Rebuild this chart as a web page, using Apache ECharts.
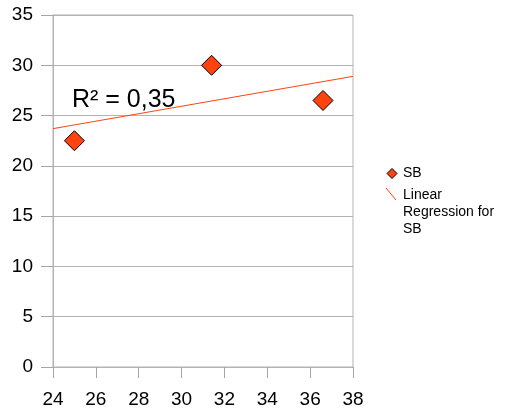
<!DOCTYPE html>
<html>
<head>
  <meta charset="UTF-8">
  <title>SB</title>
  <script src="https://cdn.jsdelivr.net/npm/echarts@6/dist/echarts.min.js"></script>
  <style>
    html, body { margin: 0; padding: 0; background: #fff; }
    #main { width: 507px; height: 414px; }
  </style>
</head>
<body>
<div id="main"></div>
<script>
  // values
  var sbX = [25, 31.4, 36.6];
  var sbY = [22.5, 30, 26.5];
  var trendX = [24, 38];
  var trendY = [23.7, 28.9];
  var rSquared = 'R² = 0,35';

  var orange = '#ff420e';
  var gray = '#b3b3b3';
  var font = 'Liberation Sans, Arial, sans-serif';

  var points = sbX.map(function (x, i) { return [x, sbY[i]]; });
  var trend = trendX.map(function (x, i) { return [x, trendY[i]]; });

  var chart = echarts.init(document.getElementById('main'));
  chart.setOption({
    animation: false,
    grid: { left: 53, right: 154, top: 15, bottom: 47, show: true, borderColor: gray, borderWidth: 1 },
    xAxis: {
      type: 'value', min: 24, max: 38, interval: 2,
      axisLine: { show: true, lineStyle: { color: gray } },
      axisTick: { show: true, length: 11, lineStyle: { color: '#a6a6a6', width: 1 } },
      axisLabel: { color: '#000', fontSize: 19, fontFamily: font, margin: 23 },
      splitLine: { show: false }
    },
    yAxis: {
      type: 'value', min: 0, max: 35, interval: 5,
      axisLine: { show: true, lineStyle: { color: gray } },
      axisTick: { show: true, length: 12, lineStyle: { color: '#a6a6a6', width: 1 } },
      axisLabel: { color: '#000', fontSize: 19, fontFamily: font, margin: 20 },
      splitLine: { lineStyle: { color: gray } }
    },
    graphic: [
      { type: 'text', left: 72, top: 88,
        style: { text: rSquared, fontSize: 25, fontFamily: font, fill: '#000' } },
      // legend
      { type: 'polygon', shape: { points: [[392, 168.5], [397, 173.5], [392, 178.5], [387, 173.5]] },
        style: { fill: orange, stroke: '#000', lineWidth: 1 } },
      { type: 'text', x: 403, y: 173.5,
        style: { text: 'SB', fontSize: 14, fontFamily: font, fill: '#000', verticalAlign: 'middle' } },
      { type: 'line', shape: { x1: 386, y1: 188, x2: 396, y2: 200 },
        style: { stroke: orange, lineWidth: 1 } },
      { type: 'text', x: 403, y: 187,
        style: { text: 'Linear\nRegression for\nSB', fontSize: 14, lineHeight: 17, fontFamily: font, fill: '#000' } }
    ],
    series: [
      {
        name: 'Linear Regression for SB', type: 'line', data: trend,
        symbol: 'none', lineStyle: { color: orange, width: 1 }, z: 2
      },
      {
        name: 'SB', type: 'scatter', data: points,
        symbol: 'diamond', symbolSize: 20,
        itemStyle: { color: orange, opacity: 1, borderColor: '#000', borderWidth: 1 }, z: 3
      }
    ]
  });
</script>
</body>
</html>
